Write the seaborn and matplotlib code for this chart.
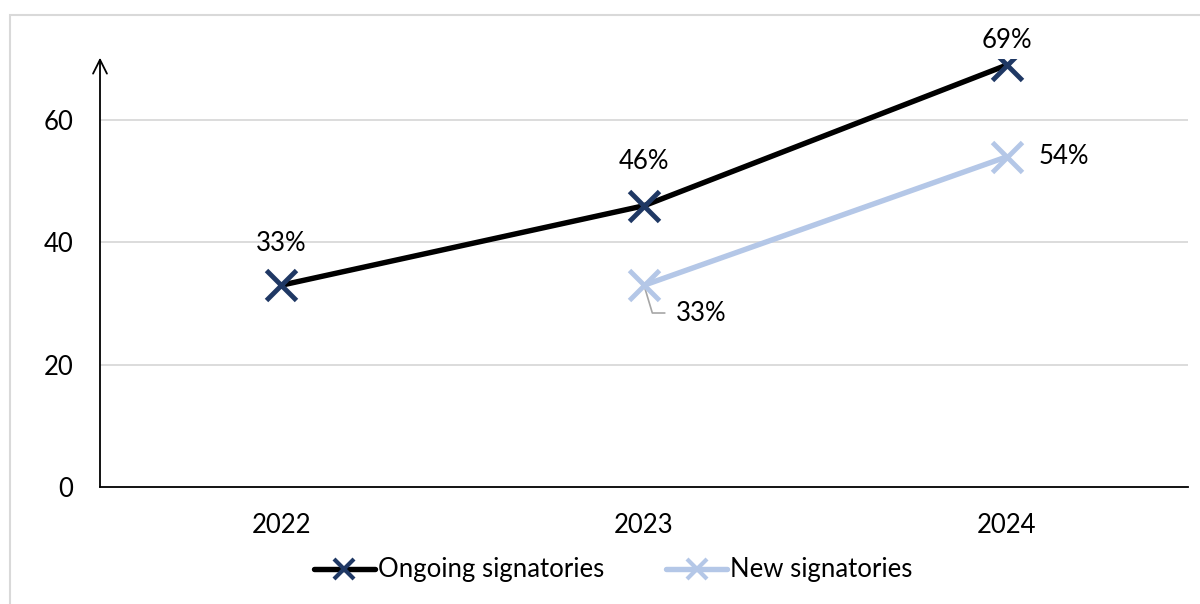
import matplotlib
matplotlib.use("Agg")
import matplotlib.pyplot as plt
import matplotlib.transforms as mtrans
import seaborn as sns
import pandas as pd
import numpy as np
from matplotlib.lines import Line2D
from matplotlib.patches import Rectangle

years = ["2022", "2023", "2024"]
ongoing = [33, 46, 69]
new = [np.nan, 33, 54]
ongoing_labels = ["33%", "46%", "69%"]
new_labels = [None, "33%", "54%"]

sns.set_theme(style="white")
plt.rcParams['font.family'] = ['Lato', 'DejaVu Sans']
plt.rcParams['text.color'] = 'black'

df = pd.DataFrame({"pos": range(len(years)), "year": years,
                   "Ongoing signatories": ongoing, "New signatories": new})

fig = plt.figure(figsize=(12, 6.04), dpi=100)
ax = fig.add_axes([100/1200, 1-487/604, 1088/1200, 428/604])

# figure frame
fig.patches.append(Rectangle((10/1200, -0.05), 1.1, 1-15/604+0.05, transform=fig.transFigure,
                             fill=False, edgecolor="#D9D9D9", linewidth=1.5, zorder=0))

navy = "#1F3864"
light = "#B4C7E7"
FS = 18.5

sns.lineplot(data=df, x="pos", y="New signatories", ax=ax, color=light, linewidth=3.9,
             marker="x", markersize=22, markeredgewidth=3.5, markeredgecolor=light, zorder=3)
sns.lineplot(data=df, x="pos", y="Ongoing signatories", ax=ax, color="black", linewidth=3.9,
             marker="x", markersize=22, markeredgewidth=3.5, markeredgecolor=navy, zorder=4)

ax.set_xlim(-0.5, 2.5)
ax.set_ylim(0, 70)
ax.set_xticks(range(len(years)))
ax.set_xticklabels(years)
ax.set_yticks([0, 20, 40, 60])
ax.tick_params(axis="both", length=0, labelsize=FS, colors="black")
ax.tick_params(axis="y", pad=19)
ax.tick_params(axis="x", pad=19)
ax.set_xlabel("")
ax.set_ylabel("")
for y in [20, 40, 60]:
    ax.axhline(y, color="#D9D9D9", linewidth=1.3, zorder=1)
for s in ["top", "right", "left"]:
    ax.spines[s].set_visible(False)
ax.spines["bottom"].set_color("black")
ax.spines["bottom"].set_linewidth(1.3)
ax.annotate("", xy=(0, 1.003), xytext=(0, 0), xycoords="axes fraction",
            arrowprops=dict(arrowstyle="->", lw=1.3, color="black", mutation_scale=25,
                            shrinkA=0, shrinkB=0))

# labels
offsets = [30, 31.5, 18]
for i, (v, lab) in enumerate(zip(ongoing, ongoing_labels)):
    ax.annotate(lab, xy=(i, v), xytext=(0, offsets[i]), textcoords="offset points",
                ha="center", va="center", fontsize=FS, color="black")
ax.annotate(new_labels[2], xy=(2, new[2]), xytext=(41, 0), textcoords="offset points",
            ha="center", va="center", fontsize=FS, color="black")
ax.annotate(new_labels[1], xy=(1, new[1]), xytext=(41, -20), textcoords="offset points",
            ha="center", va="center", fontsize=FS, color="black")
# leader line for the 2023 new-signatories label
off = mtrans.ScaledTranslation(0, 0, fig.dpi_scale_trans)
ax.plot([1, 1], [new[1], new[1]], alpha=0)
lead = Line2D([0, 6/72, 15/72], [0, -20/72, -20/72], color="#A6A6A6", lw=1.2,
              transform=fig.dpi_scale_trans + mtrans.ScaledTranslation(
                  *ax.transData.transform((1, new[1])) / fig.dpi, fig.dpi_scale_trans) - 
              mtrans.ScaledTranslation(0, 0, fig.dpi_scale_trans), zorder=2)
ax.add_line(lead)

handles = [Line2D([], [], color="black", lw=3.9, marker="x", markersize=14,
                  markeredgewidth=3, markeredgecolor=navy),
           Line2D([], [], color=light, lw=3.9, marker="x", markersize=14,
                  markeredgewidth=3, markeredgecolor=light)]
fig.legend(handles, ["Ongoing signatories", "New signatories"], loc="center",
           bbox_to_anchor=(613/1200, 1-570/604), ncol=2, frameon=False, fontsize=FS,
           handlelength=2.4, handletextpad=0.1, columnspacing=2.4)

fig.savefig("out.png", dpi=100)
